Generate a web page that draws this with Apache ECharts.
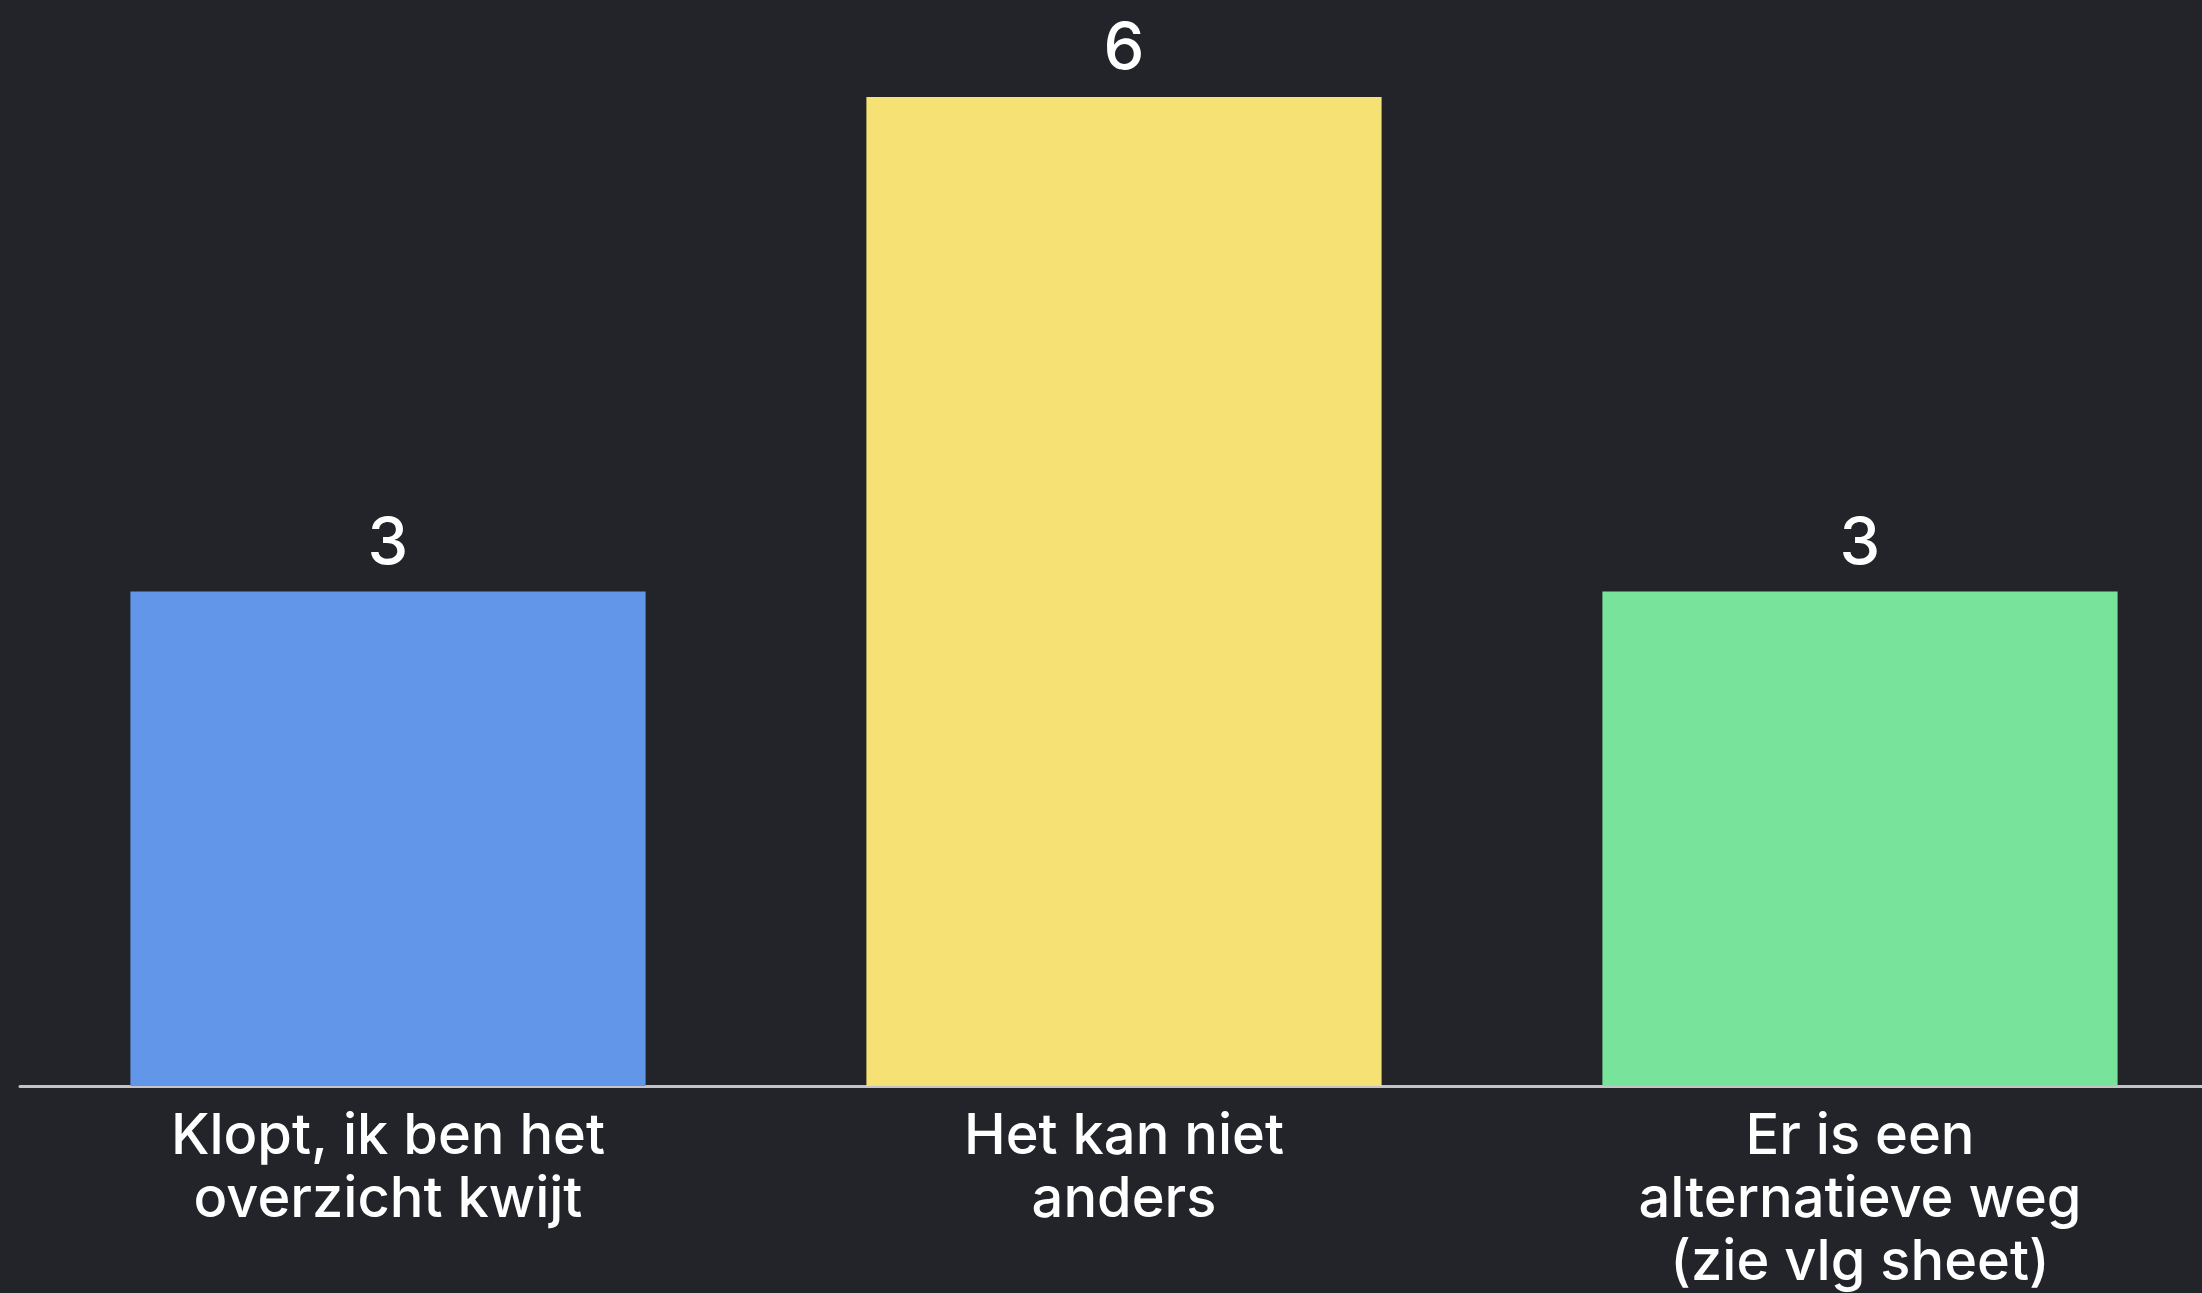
<!DOCTYPE html>
<html>
<head>
<meta charset="utf-8">
<title>Bar chart</title>
<script src="https://cdn.jsdelivr.net/npm/echarts@6/dist/echarts.min.js"></script>
<style>
  html, body { margin: 0; padding: 0; background: #232429; }
  #chart { width: 2202px; height: 1293px; }
</style>
</head>
<body>
<div id="chart"></div>
<script>
// categories and values
const categories = [
  "Klopt, ik ben het\noverzicht kwijt",
  "Het kan niet\nanders",
  "Er is een\nalternatieve weg\n(zie vlg sheet)",
];
const values = [3, 6, 3];
const barColors = ["#6196e8", "#f5e174", "#78e39a"];

const chart = echarts.init(document.getElementById("chart"));
const option = {
  backgroundColor: "#232429",
  animation: false,
  // the plot runs a little past the right edge of the canvas
  grid: { left: 20, width: 2208, top: 97, bottom: 207, outerBoundsMode: "none" },
  xAxis: {
    type: "category",
    data: categories,
    axisLine: { lineStyle: { color: "#c4c4c8", width: 3 } },
    axisTick: { show: false },
    axisLabel: {
      interval: 0,
      color: "#ffffff",
      fontFamily: "Inter",
      fontWeight: 500,
      fontSize: 56,
      lineHeight: 63,
      margin: 20,
    },
  },
  yAxis: {
    type: "value",
    min: 0,
    max: 6,
    show: false,
    splitLine: { show: false },
  },
  series: [
    {
      type: "bar",
      barCategoryGap: "30%",
      data: values.map((v, i) => ({ value: v, itemStyle: { color: barColors[i] } })),
      label: {
        show: true,
        position: "top",
        distance: 15,
        color: "#ffffff",
        fontFamily: "Inter",
        fontWeight: 500,
        fontSize: 65,
      },
    },
  ],
};
chart.setOption(option);
</script>
</body>
</html>
